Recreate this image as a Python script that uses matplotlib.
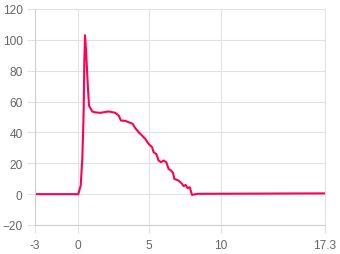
import matplotlib
matplotlib.use("Agg")
import matplotlib.pyplot as plt

# curve
time = [-3, 0.03, 0.2, 0.24, 0.31, 0.36, 0.41, 0.45, 0.5, 0.56, 0.59, 0.71, 0.78,
        1.01, 1.22, 1.57, 2.15, 2.62, 2.85, 3.02, 3.32, 3.67, 3.83, 4.02, 4.25,
        4.49, 4.72, 4.95, 5.19, 5.3, 5.49, 5.65, 5.82, 6.0, 6.19, 6.35, 6.52,
        6.66, 6.75, 7.05, 7.17, 7.29, 7.4, 7.54, 7.68, 7.83, 7.99, 8.34, 17.3]
value = [0, 0, 5.6, 12, 23, 38, 55, 85, 103, 95, 90, 68, 57.4,
         53.5, 53, 52.7, 53.6, 52.7, 51, 47.7, 47.5, 46.2, 45.6, 42.8, 40.2,
         38, 35.8, 32.6, 30.5, 27.2, 26, 21.8, 20.7, 21.8, 20.7, 16.4, 15.3,
         13.8, 9.9, 8.8, 7.8, 6.7, 5.2, 6, 3.9, 4.5, -0.5, 0.2, 0.5]

x_ticks = [-3, 0, 5, 10, 17.3]
x_labels = ["-3", "0", "5", "10", "17.3"]
y_ticks = [-20, 0, 20, 40, 60, 80, 100, 120]

plt.rcParams["font.family"] = ["Liberation Sans", "DejaVu Sans"]

fig = plt.figure(figsize=(3.4, 2.55), dpi=100)
ax = fig.add_axes([35 / 340, 1 - 226 / 255, 290 / 340, 216 / 255])

ax.plot(time, value, color="#ff0055", linewidth=1.5, solid_joinstyle="round")

ax.set_xlim(-3, 17.3)
ax.set_ylim(-20, 120)
ax.set_xticks(x_ticks)
ax.set_xticklabels(x_labels)
ax.set_yticks(y_ticks)

ax.grid(True, color="#e2e2e2", linewidth=0.8)
ax.set_axisbelow(True)
for s in ax.spines.values():
    s.set_color("#e2e2e2")
    s.set_linewidth(0.8)
ax.spines["left"].set_color("#cfcfcf")
ax.spines["bottom"].set_color("#cfcfcf")

ax.tick_params(axis="both", colors="#e2e2e2", labelcolor="#666666",
               labelsize=8.6, length=6, width=0.8)
ax.tick_params(axis="y", pad=3)
ax.tick_params(axis="x", pad=4)

fig.savefig("out.png", dpi=100)
